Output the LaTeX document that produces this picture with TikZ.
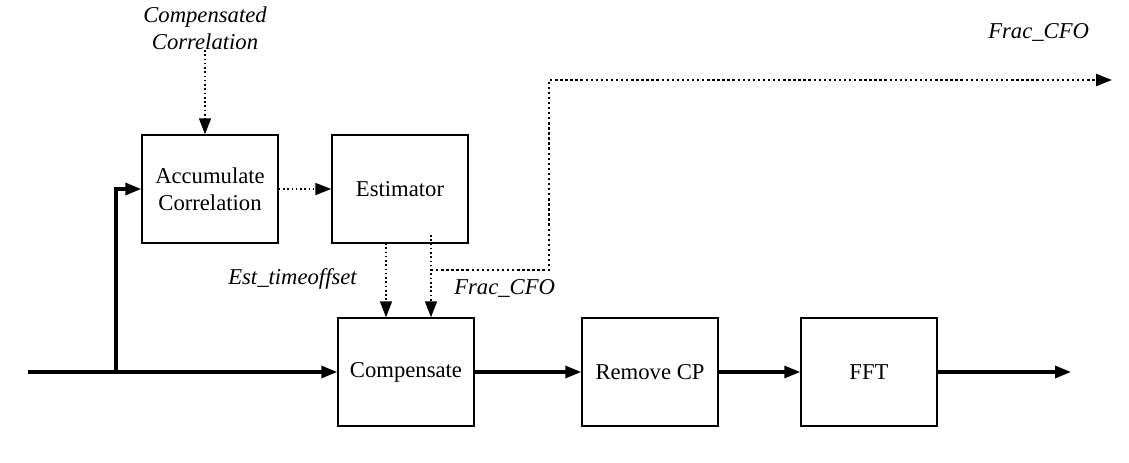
\documentclass[tikz,border=0pt]{standalone}
\usepackage{fontspec}
\setmainfont{Liberation Serif}
\usetikzlibrary{arrows.meta}
\tikzset{
  blk/.style={draw, line width=1.1pt, minimum width=102pt, minimum height=81pt, align=center, inner sep=0pt, font=\fontsize{17}{20.5}\selectfont},
  tip/.style={-{Triangle[length=12pt,width=9pt]}},
  sig/.style={line width=2.4pt, tip},
  ctl/.style={line width=1.2pt, dotted, tip},
  far/.style={line width=1.8pt, dotted, tip},
  lbl/.style={font=\fontsize{17}{20}\selectfont\itshape, inner sep=0pt}
}
\begin{document}
\begin{tikzpicture}[x=0.75pt,y=-0.75pt]
\useasboundingbox (0,0) rectangle (1129,463);
% processing blocks
\node[blk] (acc) at (210,189) {Accumulate\\Correlation};
\node[blk] (est) at (400,189) {Estimator};
\node[blk] (comp) at (406,372) {Compensate};
\node[blk] (rcp) at (650,372) {Remove CP};
\node[blk] (fft) at (869,372) {FFT};
% labels
\node[lbl, align=center] (cc) at (205,28) {Compensated\\Correlation};
\node[lbl, anchor=east] (eto) at (357,279) {Est\_timeoffset};
\node[lbl, anchor=west] (fc1) at (454,288) {Frac\_CFO};
\node[lbl, anchor=west] (fc2) at (988,32) {Frac\_CFO};
% auxiliary points
\coordinate (in) at (28,372);
\coordinate (br) at (116,372);
\coordinate (out) at (1071,372);
\coordinate (ccend) at (205,50);
\coordinate (e1) at (386,243);
\coordinate (e2) at (431,235);
\coordinate (turn) at (431,270);
\coordinate (up) at (549,80);
\coordinate (far) at (1112,80);
% main signal path
\draw[line width=2.4pt] (in) -- (br);
\draw[sig] (br) -- (comp.west);
\draw[sig] (br) |- (acc.west);
\draw[sig] (comp) -- (rcp);
\draw[sig] (rcp) -- (fft);
\draw[sig] (fft.east) -- (out);
% control paths
\draw[ctl] (ccend) -- (ccend |- acc.north);
\draw[ctl] (acc) -- (est);
\draw[ctl] (e1) -- (e1 |- comp.north);
\draw[ctl] (e2) -- (e2 |- comp.north);
\draw[far] (turn) -| (up) -- (far);
\end{tikzpicture}
\end{document}
